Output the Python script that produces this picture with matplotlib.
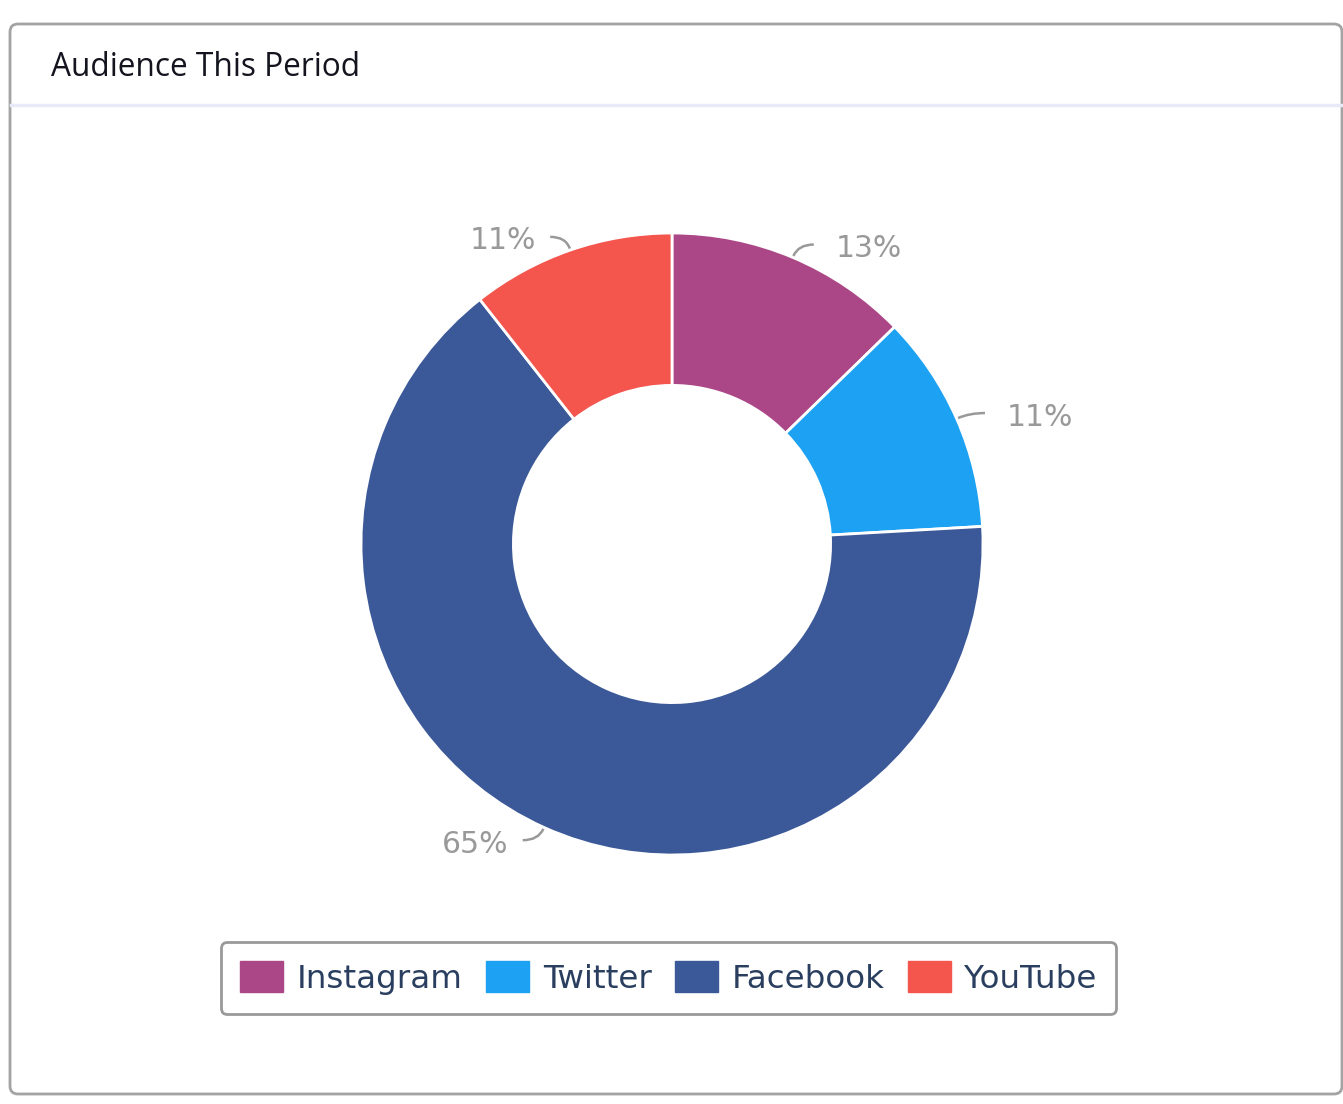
import matplotlib
matplotlib.use('Agg')
import matplotlib.pyplot as plt
import numpy as np
from matplotlib.patches import FancyBboxPatch, Patch
from matplotlib.path import Path
from matplotlib.patches import PathPatch

# Data (share of audience, %)
platforms = ['Instagram', 'Twitter', 'Facebook', 'YouTube']
shares = [12.7, 11.4, 65.3, 10.6]
colors = ['#ab4787', '#1da1f2', '#3b5998', '#f4554d']
title = 'Audience This Period'

W, H = 1343, 1104
fig = plt.figure(figsize=(W / 100, H / 100), dpi=100)

# card background in pixel coordinates
bg = fig.add_axes([0, 0, 1, 1])
bg.set_xlim(0, W)
bg.set_ylim(H, 0)
bg.axis('off')
card = FancyBboxPatch((10, 24), 1332, 1070, boxstyle='round,pad=0,rounding_size=8',
                      facecolor='white', edgecolor='#a3a3a3', linewidth=2)
bg.add_patch(card)
bg.plot([11, W], [105, 105], color='#e8eaf8', linewidth=2.5)
bg.text(51, 67, title, fontsize=22.8, family='Open Sans', color='#14141f', va='center')

# donut
R = 311
side = 3 * R
cx, cy = 672, 544
ax = fig.add_axes([(cx - side / 2) / W, (H - cy - side / 2) / H, side / W, side / H])
ax.patch.set_alpha(0)
wedges, _ = ax.pie(shares, colors=colors, startangle=90, counterclock=False, radius=1,
                   wedgeprops=dict(width=0.49, edgecolor='white', linewidth=2))
ax.set_xlim(-1.5, 1.5)
ax.set_ylim(-1.5, 1.5)

total = sum(shares)
for w, v in zip(wedges, shares):
    th = np.deg2rad((w.theta1 + w.theta2) / 2)
    x, y = np.cos(th), np.sin(th)
    s = 1 if x >= 0 else -1
    p0 = (x * 1.005, y * 1.005)
    p1 = (x * 1.045, y * 1.045)
    p2 = (p1[0] + s * 0.05, p1[1])
    leader = Path([p0, p1, p2], [Path.MOVETO, Path.CURVE3, Path.CURVE3])
    ax.add_patch(PathPatch(leader, facecolor='none', edgecolor='#999999', linewidth=1.8))
    gap = 0.07 if s > 0 else 0.045
    ax.text(p2[0] + s * gap, p2[1] - 0.013, f'{round(v / total * 100)}%', fontsize=21.5,
            color='#999999', ha='left' if s > 0 else 'right', va='center',
            family='DejaVu Sans')

handles = [Patch(facecolor=c, edgecolor=c) for c in colors]
leg = fig.legend(handles, platforms, loc='center', bbox_to_anchor=(668.5 / W, 1 - 978 / H),
                 ncol=4, fontsize=23.4, frameon=True, fancybox=True,
                 handlelength=1.32, handleheight=1.1, handletextpad=0.42,
                 columnspacing=0.72, borderpad=0.6, borderaxespad=0)
for t in leg.get_texts():
    t.set_color('#2a3f5f')
frame = leg.get_frame()
frame.set_edgecolor('#999999')
frame.set_linewidth(2)
frame.set_alpha(1)

fig.savefig('out.png', dpi=100)
